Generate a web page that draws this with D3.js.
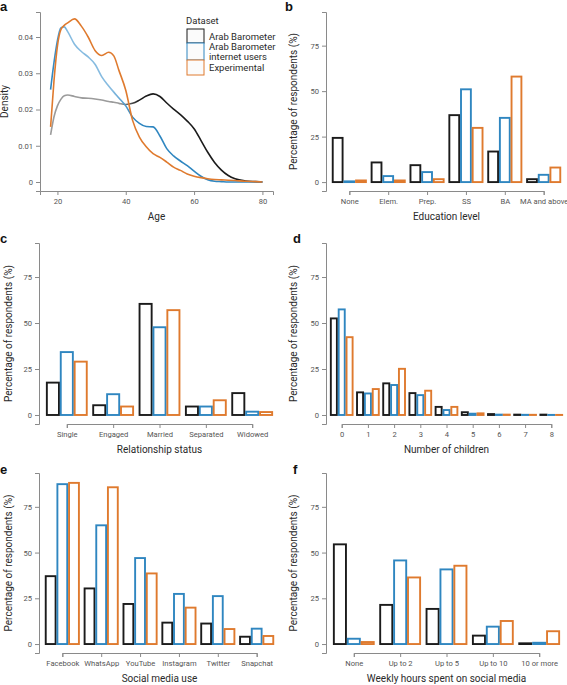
<!DOCTYPE html>
<html><head><meta charset="utf-8">
<script src="https://cdn.jsdelivr.net/npm/d3@7"></script>
<style>
body{margin:0;background:#fff;}
svg{display:block;font-family:Roboto,"Open Sans",sans-serif;}
</style></head>
<body><svg id="c" width="567" height="685"></svg>
<script>
// ---------- DATA ----------
const seriesNames = ["Arab Barometer", "Arab Barometer internet users", "Experimental"];
const seriesColors = ["#1b1b1b", "#2f86c0", "#df7a2e"];

// Panel a: age density
const ages = [18,19,20,21,22,23,25,27,29,31,33,35,36.5,38,40,42,44,46,48,50,52,54,56,58,60,62,64,66,68,70,72,75,78,80];
const densAB = [0.013,0.018,0.021,0.0228,0.0238,0.024,0.0236,0.0232,0.0231,0.0229,0.0226,0.0222,0.022,0.0217,0.0214,0.0217,0.0226,0.0237,0.0243,0.0236,0.0218,0.0201,0.0186,0.0168,0.0147,0.0115,0.0082,0.0054,0.0033,0.0018,0.0009,0.0003,0.0001,0];
const densABI = [0.0255,0.033,0.039,0.0425,0.0428,0.0415,0.038,0.036,0.0345,0.0325,0.029,0.0265,0.0248,0.0232,0.021,0.0179,0.0162,0.0153,0.0152,0.0127,0.0092,0.0072,0.0058,0.0045,0.003,0.0016,0.0006,0.0002,0.0001,0,0,0,0,0];
const densExp = [0.0152,0.028,0.0375,0.042,0.0432,0.0439,0.045,0.043,0.040,0.0363,0.0349,0.0358,0.0348,0.0308,0.0253,0.017,0.0124,0.0097,0.0078,0.0068,0.0055,0.0041,0.0032,0.0022,0.0016,0.0012,0.0009,0.0007,0.0006,0.0005,0.0004,0.0002,0.0001,0];
const ageTicks = [20,40,60,80];
const densTicks = [0,0.01,0.02,0.03,0.04];

// Panel b: education
const eduCats = ["None","Elem.","Prep.","SS","BA","MA and above"];
const eduAB = [24.3,10.8,9.3,36.8,16.8,1.6];
const eduABI = [0.4,3.3,5.5,51,35.3,4];
const eduExp = [0.9,0.9,1.6,29.8,58,8];

// Panel c: relationship
const relCats = ["Single","Engaged","Married","Separated","Widowed"];
const relAB = [17.6,5.3,60.4,4.6,11.9];
const relABI = [34.2,11.3,47.7,4.6,1.8];
const relExp = [29,4.6,57,8,1.6];

// Panel d: children
const kidCats = ["0","1","2","3","4","5","6","7","8"];
const kidAB = [52.5,12.3,17.2,11.9,4.4,1.5,0.5,0.2,0.2];
const kidABI = [57.4,11.7,16.3,10.8,2.7,0.7,0.2,0.1,0.05];
const kidExp = [42.3,14.1,25.1,13.2,4.4,0.9,0.2,0.1,0.05];

// Panel e: social media use
const smCats = ["Facebook","WhatsApp","YouTube","Instagram","Twitter","Snapchat"];
const smAB = [37.1,30.4,21.9,11.7,11.2,4];
const smABI = [87.4,64.9,47,27.4,26.2,8.4];
const smExp = [88.1,85.7,38.6,19.9,8.2,4.4];

// Panel f: weekly hours
const hrCats = ["None","Up to 2","Up to 5","Up to 10","10 or more"];
const hrAB = [54.5,21.4,19.2,4.6,0.4];
const hrABI = [2.9,45.7,40.8,9.5,0.7];
const hrExp = [1.1,36.4,42.8,12.6,7];

const pctTicks = [0,25,50,75];

// ---------- DRAW ----------
const svg = d3.select("#c");
const axisCol = "#8a8a8a", tickTextCol = "#555", titleCol = "#2a2a2a";

function styleAxis(g){
  g.selectAll("path.domain").attr("stroke", axisCol).attr("stroke-width", 1);
  g.selectAll(".tick line").attr("stroke", axisCol);
  g.selectAll(".tick text").attr("fill", tickTextCol).style("font-size","7.6px").style("font-family","Roboto,sans-serif");
}

function panelLetter(t, x, y){
  svg.append("text").attr("x", x).attr("y", y).text(t)
    .style("font-family","'Liberation Sans',Arial,sans-serif").style("font-weight","bold").style("font-size","13px").attr("fill","#111");
}

function axes(x, y, left, right, top, bottom, xTitle, yTitle, yTitleX, yFmt, yTicks, xTickVals){
  const gx = svg.append("g").attr("transform", `translate(0,${bottom})`);
  const ax = d3.axisBottom(x).tickSizeOuter(0).tickSize(4).tickPadding(4);
  if (xTickVals) ax.tickValues(xTickVals);
  gx.call(ax);
  styleAxis(gx);
  const gy = svg.append("g").attr("transform", `translate(${left},0)`);
  gy.call(d3.axisLeft(y).tickValues(yTicks).tickFormat(yFmt).tickSizeOuter(0).tickSize(4).tickPadding(3));
  styleAxis(gy);
  svg.append("text").attr("x", (left+right)/2).attr("y", bottom+29).attr("text-anchor","middle")
    .attr("fill", titleCol).style("font-size","10px").text(xTitle);
  svg.append("text").attr("transform", `translate(${yTitleX},${(top+bottom)/2}) rotate(-90)`)
    .attr("text-anchor","middle").attr("fill", titleCol).style("font-size","10px").text(yTitle);
}

function barPanel(cfg){
  const {left,right,top,bottom,cats,vals,xTitle,yTitleX} = cfg;
  const n = cats.length;
  const step = (right-left)/(n-1+1.2);
  const x = d3.scalePoint().domain(cats).range([left+0.6*step, right-0.6*step]);
  const y = d3.scaleLinear().domain([-4.9, 93.5]).range([bottom, top]);
  axes(x, y, left, right, top, bottom, xTitle, "Percentage of respondents (%)", yTitleX, d3.format("d"), pctTicks);
  const bw = step*0.9/3;
  const rows = [];
  cats.forEach((c,i)=>vals.forEach((v,s)=>rows.push({c, s, v: v[i]})));
  svg.append("g").selectAll("rect").data(rows).join("rect")
    .attr("x", d => x(d.c) - 1.5*bw + d.s*bw + 0.9)
    .attr("width", bw - 1.8)
    .attr("y", d => y(d.v))
    .attr("height", d => Math.max(0, y(0) - y(d.v)))
    .attr("fill", "#fff")
    .attr("stroke", d => seriesColors[d.s])
    .attr("stroke-width", 1.9);
}

// Panel a
(function(){
  const left=40, right=273, top=12, bottom=191;
  const x = d3.scaleLinear().domain([14.9, 83.1]).range([left, right]);
  const y = d3.scaleLinear().domain([-0.00248, 0.0469]).range([bottom, top]);
  axes(x, y, left, right, top, bottom, "Age", "Density", 8, d => d===0 ? "0" : d3.format(".2f")(d), densTicks, ageTicks);
  const defs = svg.append("defs");
  function grad(id, stops){
    const g = defs.append("linearGradient").attr("id", id).attr("gradientUnits","userSpaceOnUse")
      .attr("x1", x(18)).attr("x2", x(80)).attr("y1",0).attr("y2",0);
    stops.forEach(([a,c]) => g.append("stop").attr("offset", (x(a)-x(18))/(x(80)-x(18))).attr("stop-color", c));
  }
  grad("gAB", [[18,"#9b9b9b"],[38,"#9b9b9b"],[44,"#1b1b1b"],[80,"#1b1b1b"]]);
  grad("gABI", [[18,"#2f86c0"],[20,"#3f90c8"],[23,"#86bbe0"],[36,"#86bbe0"],[42,"#2f86c0"],[80,"#2f86c0"]]);
  grad("gExp", [[18,"#df7a2e"],[80,"#df7a2e"]]);
  const line = d3.line().x((d,i)=>x(ages[i])).y(d=>y(d)).curve(d3.curveMonotoneX);
  [[densAB,"gAB"],[densABI,"gABI"],[densExp,"gExp"]].forEach(([arr,id])=>{
    svg.append("path").attr("d", line(arr)).attr("fill","none").attr("stroke",`url(#${id})`).attr("stroke-width",1.6);
  });
  // legend
  const lg = svg.append("g");
  lg.append("text").attr("x",186).attr("y",24).text("Dataset").attr("fill",titleCol).style("font-size","9.5px");
  const keys = [{y:29,h:14,lines:["Arab Barometer"]},{y:43,h:17,lines:["Arab Barometer","internet users"]},{y:60,h:15,lines:["Experimental"]}];
  keys.forEach((k,i)=>{
    lg.append("rect").attr("x",187).attr("y",k.y).attr("width",17).attr("height",k.h)
      .attr("fill","#fbfbfb").attr("stroke",seriesColors[i]).attr("stroke-width",1);
    k.lines.forEach((t,j)=>{
      lg.append("text").attr("x",209).attr("y", k.y + k.h/2 + 3.5 - (k.lines.length-1)*5 + j*10)
        .text(t).attr("fill",titleCol).style("font-size","9.5px");
    });
  });
})();

barPanel({left:326,right:567,top:12,bottom:191,cats:eduCats,vals:[eduAB,eduABI,eduExp],xTitle:"Education level",yTitleX:297});
barPanel({left:39,right:280,top:243,bottom:424,cats:relCats,vals:[relAB,relABI,relExp],xTitle:"Relationship status",yTitleX:12});
barPanel({left:326,right:567,top:243,bottom:424,cats:kidCats,vals:[kidAB,kidABI,kidExp],xTitle:"Number of children",yTitleX:297});
barPanel({left:39,right:280,top:473,bottom:653,cats:smCats,vals:[smAB,smABI,smExp],xTitle:"Social media use",yTitleX:12});
barPanel({left:326,right:567,top:473,bottom:653,cats:hrCats,vals:[hrAB,hrABI,hrExp],xTitle:"Weekly hours spent on social media",yTitleX:297});

panelLetter("a",0,11);
panelLetter("b",285,11);
panelLetter("c",0,243);
panelLetter("d",293,243);
panelLetter("e",0,474);
panelLetter("f",293,474);
</script></body></html>
